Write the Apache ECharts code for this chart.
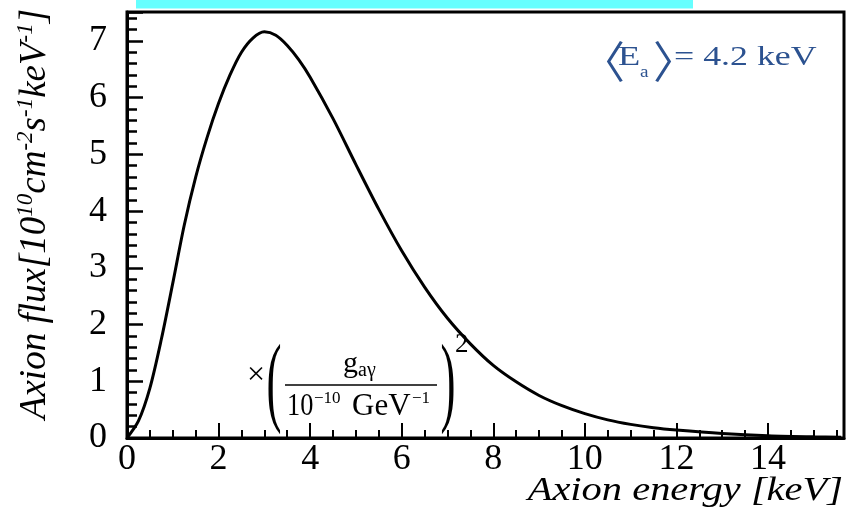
<!DOCTYPE html>
<html>
<head>
<meta charset="utf-8">
<script src="https://cdn.jsdelivr.net/npm/echarts@6/dist/echarts.min.js"></script>
<style>html,body{margin:0;padding:0;background:#fff}#c{width:856px;height:526px}</style>
</head>
<body>
<div id="c"></div>
<script>
// Data
const energy = [0, 0.25, 0.5, 0.75, 1, 1.25, 1.5, 1.75, 2, 2.25, 2.5, 2.75, 3, 3.25, 3.5, 3.75, 4, 4.5, 5, 5.5, 6, 6.5, 7, 7.5, 8, 8.5, 9, 9.5, 10, 10.5, 11, 11.5, 12, 13, 14, 15, 15.6];
const flux = [0, 0.30, 0.88, 1.74, 2.73, 3.75, 4.6, 5.3, 5.9, 6.4, 6.8, 7.05, 7.16, 7.1, 6.92, 6.67, 6.36, 5.63, 4.82, 4.03, 3.30, 2.66, 2.11, 1.66, 1.28, 0.99, 0.75, 0.57, 0.43, 0.32, 0.24, 0.18, 0.14, 0.08, 0.04, 0.02, 0.015];
const xTickLabels = [0, 2, 4, 6, 8, 10, 12, 14];
const yTickLabels = [0, 1, 2, 3, 4, 5, 6, 7];

const SERIF = '"Liberation Serif", "Times New Roman", serif';
const CJK = '"Noto Sans CJK SC", sans-serif';
const X_MAX = 15.66, Y_MAX = 7.51;

function T(text, x, y, size, o) {
  o = o || {};
  return {
    type: 'text', x: x, y: y, z: 100,
    scaleX: o.sx || 1, scaleY: o.sy || 1, rotation: o.rot || 0,
    style: {
      text: text, fill: o.color || '#000', fontSize: size,
      fontFamily: o.family || SERIF, fontStyle: o.italic ? 'italic' : 'normal',
      align: o.align || 'left', verticalAlign: o.va || 'middle', rich: o.rich
    }
  };
}

const chart = echarts.init(document.getElementById('c'), null, {renderer: 'canvas'});
const blue = '#2c5290';
const yTitleRich = {
  m: {fontSize: 37, fontStyle: 'italic', fontFamily: SERIF, lineHeight: 42, fill: '#000'},
  s: {fontSize: 23, fontStyle: 'italic', fontFamily: SERIF, lineHeight: 16, verticalAlign: 'top', fill: '#000'}
};

chart.setOption({
  animation: false,
  backgroundColor: '#fff',
  grid: {left: 127, right: 12, top: 12, bottom: 88, show: true, borderColor: '#000', borderWidth: 3, containLabel: false},
  xAxis: [{
    type: 'value', min: 0, max: X_MAX, interval: 2,
    axisLine: {show: true, onZero: false, lineStyle: {color: '#000', width: 3}},
    axisTick: {show: true, inside: true, length: 15, lineStyle: {color: '#000', width: 2}},
    axisLabel: {color: '#000', fontSize: 36, fontFamily: SERIF, margin: 4,
      formatter: v => xTickLabels.indexOf(v) >= 0 ? String(v) : ''},
    splitLine: {show: false}
  }, {
    type: 'value', min: 0, max: X_MAX, interval: 0.5, position: 'bottom',
    axisLine: {show: false},
    axisTick: {show: true, inside: true, length: 8, lineStyle: {color: '#000', width: 2}},
    axisLabel: {show: false}, splitLine: {show: false}
  }],
  yAxis: [{
    type: 'value', min: 0, max: Y_MAX, interval: 1,
    axisLine: {show: true, onZero: false, lineStyle: {color: '#000', width: 3}},
    axisTick: {show: true, inside: true, length: 16, lineStyle: {color: '#000', width: 2.5}},
    axisLabel: {color: '#000', fontSize: 36, fontFamily: SERIF, margin: 20,
      formatter: v => yTickLabels.indexOf(v) >= 0 ? String(v) : ''},
    splitLine: {show: false}
  }, {
    type: 'value', min: 0, max: Y_MAX, interval: 0.2, position: 'left',
    axisLine: {show: false},
    axisTick: {show: true, inside: true, length: 10, lineStyle: {color: '#000', width: 2.5}},
    axisLabel: {show: false}, splitLine: {show: false}
  }],
  series: [{
    type: 'line', xAxisIndex: 0, yAxisIndex: 0,
    data: energy.map((e, i) => [e, flux[i]]),
    smooth: 0.3, showSymbol: false, symbol: 'none',
    lineStyle: {color: '#000', width: 3}
  }],
  graphic: [
    {type: 'rect', shape: {x: 136, y: 0, width: 557, height: 8.5}, style: {fill: '#66ffff'}, z: 100},
    // axis titles
    T('Axion energy [keV]', 843, 491.5, 34, {italic: true, align: 'right', sx: 1.19}),
    T('{m|Axion flux[10}{s|10}{m|cm}{s|-2}{m|s}{s|-1}{m|keV}{s|-1}{m|]}', 56, 214, 37,
      {rot: Math.PI / 2, align: 'center', va: 'bottom', rich: yTitleRich}),
    // mean energy annotation
    T('\u3008', 603, 61, 44, {color: blue, family: CJK, align: 'center'}),
    T('E', 618, 57.5, 28, {color: blue, sx: 1.3}),
    T('a', 640, 73, 16, {color: blue, sx: 1.2}),
    T('\u3009', 675, 61, 44, {color: blue, family: CJK, align: 'center'}),
    T('= 4.2 keV', 674, 57.5, 28, {color: blue, sx: 1.28}),
    // coupling factor annotation
    T('\u00D7', 256, 375.5, 32, {align: 'center'}),
    T('(', 274, 387, 100, {align: 'center', sx: 0.45}),
    T(')', 448, 387, 100, {align: 'center', sx: 0.45}),
    T('2', 455, 345, 27),
    T('g', 343, 364, 30),
    T('a\u03B3', 358, 371, 20),
    {type: 'line', shape: {x1: 285, y1: 385, x2: 437, y2: 385}, style: {stroke: '#000', lineWidth: 1.5}, z: 100},
    T('10', 287, 407, 31, {sx: 0.85}),
    T('\u221210', 314, 399, 17),
    T('GeV', 352, 407, 31),
    T('\u22121', 412, 399, 17)
  ]
});
</script>
</body>
</html>
